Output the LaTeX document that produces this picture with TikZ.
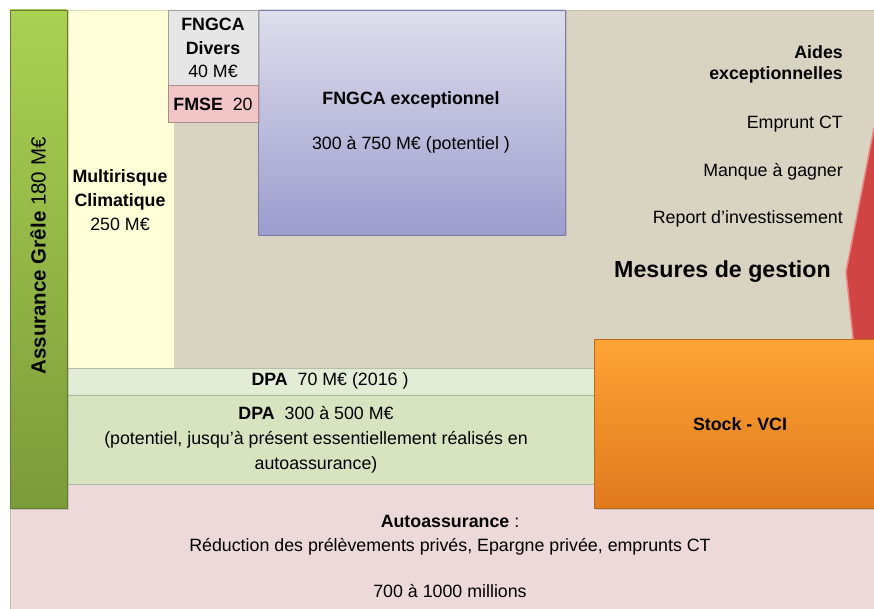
\documentclass[tikz,border=0pt]{standalone}
\usepackage{fontspec}
\setmainfont{Liberation Sans}
\usetikzlibrary{shadows}
\definecolor{beige}{HTML}{D9D4C2}
\definecolor{yellowbox}{HTML}{FFFFD8}
\definecolor{greentop}{HTML}{AAD152}
\definecolor{greenbot}{HTML}{7B9B3A}
\definecolor{greybox}{HTML}{E6E6E6}
\definecolor{fmsebox}{HTML}{F2C6C6}
\definecolor{violtop}{HTML}{DEDEEC}
\definecolor{violbot}{HTML}{9C9CCE}
\definecolor{redbox}{HTML}{D04444}
\definecolor{redlight}{HTML}{F08484}
\definecolor{orangetop}{HTML}{FDA436}
\definecolor{orangebot}{HTML}{E07A1E}
\definecolor{dpaone}{HTML}{E3EDD5}
\definecolor{dpatwo}{HTML}{D8E4C0}
\definecolor{pinkbox}{HTML}{EDD9D9}
\tikzset{
  blk/.style={anchor=north west, inner sep=0pt, outer sep=0pt, draw=#1, line width=0.5pt},
  shad/.style={drop shadow={shadow xshift=1.5pt, shadow yshift=-1.5pt, opacity=0.3}},
  txt/.style={font=\fontsize{17.8}{20}\selectfont, inner sep=0pt, text=black},
  btxt/.style={font=\fontsize{17.8}{20}\selectfont\bfseries, inner sep=0pt, text=black},
}
\begin{document}
\begin{tikzpicture}[x=1pt,y=-1pt]
\useasboundingbox (0,0) rectangle (874,609);
\clip (0,0) rectangle (874,609);
\fill[white] (0,0) rectangle (874,609);
% background of management measures
\node[blk=beige!90!black, fill=beige, minimum width=702pt, minimum height=358pt] (gestion) at (172,10) {};
% red chevron
\coordinate (chtop) at (874,128);
\coordinate (chtip) at (846,272);
\coordinate (chbot) at (882,609);
\fill[redbox] (chtop) -- (chtip) -- (chbot) -- (900,609) -- (900,128) -- cycle;
\draw[redlight, line width=1.5pt] (chtop) -- (chtip) -- (chbot);
% multirisque
\node[blk=yellowbox!85!black, fill=yellowbox, minimum width=107pt, minimum height=358pt] (multi) at (67,10) {};
% FNGCA exceptionnel
\node[blk=violbot!80!black, top color=violtop, bottom color=violbot, minimum width=307pt, minimum height=225pt, shad] (fexc) at (258,10) {};
% FNGCA divers
\node[blk=greybox!70!black, fill=greybox, minimum width=90pt, minimum height=75pt, shad] (fdiv) at (168,10) {};
% FMSE
\node[blk=fmsebox!70!black, fill=fmsebox, minimum width=90pt, minimum height=37pt, shad] (fmse) at (168,85) {};
% autoassurance
\node[blk=pinkbox!85!black, fill=pinkbox, minimum width=864pt, minimum height=125pt] (auto) at (10,484) {};
% DPA
\node[blk=dpaone!80!black, fill=dpaone, minimum width=527pt, minimum height=27pt] (dpa1) at (67,368) {};
\node[blk=dpatwo!80!black, fill=dpatwo, minimum width=527pt, minimum height=89pt] (dpa2) at (67,395) {};
% stock
\node[blk=orangebot!85!black, top color=orangetop, bottom color=orangebot, minimum width=280pt, minimum height=169pt, shad] (stock) at (594,339) {};
% green bar
\node[blk=greenbot!80!black, top color=greentop, bottom color=greenbot, minimum width=57pt, minimum height=498pt, shad] (grele) at (10,10) {};

% texts
\node[txt, rotate=90, font=\fontsize{20.5}{22}\selectfont] (tgrele) at (38,256) {\textbf{Assurance Grêle} 180 M€};
\node[txt, align=center, font=\fontsize{17.8}{24}\selectfont] (tmulti) at (120,200) {\textbf{Multirisque}\\\textbf{Climatique}\\250 M€};
\node[txt, align=center, font=\fontsize{17.8}{23.5}\selectfont] (tdiv) at (213,48) {\textbf{FNGCA}\\\textbf{Divers}\\40 M€};
\node[txt] (tfmse) at (213,104) {\textbf{FMSE}\ \ 20};
\node[btxt] (texc) at (411,100) {FNGCA exceptionnel};
\node[txt] (texc2) at (411,145) {300 à 750 M€ (potentiel )};
\node[btxt, anchor=east] (taides) at (843,52) {Aides};
\node[btxt, anchor=east] (taides2) at (843,75) {exceptionnelles};
\node[txt, anchor=east] (temp) at (843,124) {Emprunt CT};
\node[txt, anchor=east] (tmanq) at (843,172) {Manque à gagner};
\node[txt, anchor=east] (trep) at (843,219) {Report d’investissement};
\node[btxt, anchor=east, font=\fontsize{23.2}{26}\selectfont\bfseries] (tmes) at (831,272) {Mesures de gestion};
\node[txt] (tdpa1) at (330,381) {\textbf{DPA}\ \ 70 M€ (2016 )};
\node[txt, align=center, font=\fontsize{17.8}{25}\selectfont] (tdpa2) at (316,440) {\textbf{DPA}\ \ 300 à 500 M€\\(potentiel, jusqu’à présent essentiellement réalisés en\\autoassurance)};
\node[btxt] (tstock) at (740,424) {Stock - VCI};
\node[txt] (tauto1) at (450,521) {\textbf{Autoassurance} :};
\node[txt] (tauto2) at (450,547) {Réduction des prélèvements privés, Epargne privée, emprunts CT};
\node[txt] (tauto3) at (450,591) {700 à 1000 millions};
\end{tikzpicture}
\end{document}
